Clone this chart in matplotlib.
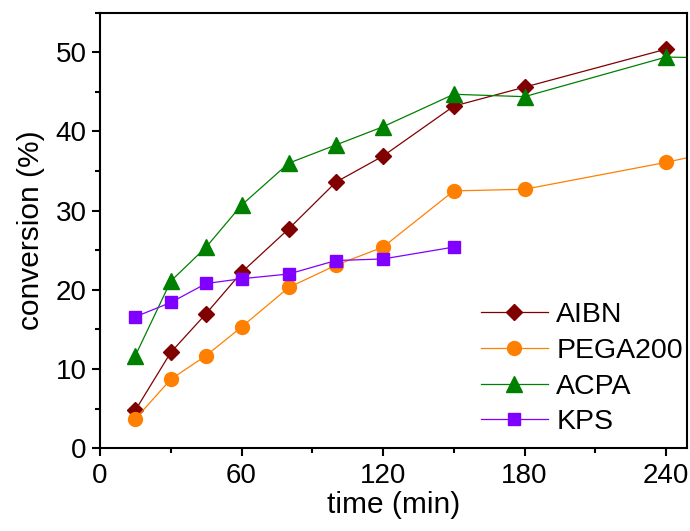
import matplotlib
matplotlib.use("Agg")
import matplotlib.pyplot as plt
from matplotlib.ticker import MultipleLocator

plt.rcParams.update({
    "font.family": ["Liberation Sans", "DejaVu Sans"],
    "font.size": 20,
})

# ─── data ────────────────────────────────────────────────────────────────────
t_aibn = [15, 30, 45, 60, 80, 100, 120, 150, 180, 240]
aibn = [4.8, 12.1, 17.0, 22.2, 27.7, 33.6, 36.9, 43.2, 45.6, 50.4]

t_pega = [15, 30, 45, 60, 80, 100, 120, 150, 180, 240, 300]
pega = [3.7, 8.7, 11.7, 15.3, 20.3, 23.1, 25.4, 32.5, 32.7, 36.1, 40.0]

t_acpa = [15, 30, 45, 60, 80, 100, 120, 150, 180, 240, 300]
acpa = [11.7, 21.1, 25.4, 30.7, 36.0, 38.3, 40.6, 44.7, 44.4, 49.4, 49.1]

t_kps = [15, 30, 45, 60, 80, 100, 120, 150]
kps = [16.6, 18.4, 20.8, 21.4, 22.0, 23.7, 23.9, 25.4]

series = [
    ("AIBN", t_aibn, aibn, "#800000", "D", 8.5),
    ("PEGA200", t_pega, pega, "#FF8000", "o", 10),
    ("ACPA", t_acpa, acpa, "#008000", "^", 11),
    ("KPS", t_kps, kps, "#8000FF", "s", 9),
]

fig = plt.figure(figsize=(6.9, 5.31), dpi=100)
ax = fig.add_axes([0.145, 0.156, 0.851, 0.82])

for name, tx, ty, col, mk, ms in series:
    ax.plot(tx, ty, color=col, lw=0.9, marker=mk, ms=ms,
            mec=col, mfc=col, label=name)

ax.set_xlim(0, 249)
ax.set_ylim(0, 55)
ax.xaxis.set_major_locator(MultipleLocator(60))
ax.xaxis.set_minor_locator(MultipleLocator(30))
ax.yaxis.set_major_locator(MultipleLocator(10))
ax.yaxis.set_minor_locator(MultipleLocator(5))
ax.tick_params(which="major", direction="out", length=6, width=1.5, labelsize=20)
ax.tick_params(which="minor", direction="out", length=3.5, width=1.5)
ax.tick_params(axis="x", which="major", pad=5)
for sp in ax.spines.values():
    sp.set_linewidth(1.5)

ax.set_xlabel("time (min)", fontsize=21.5, labelpad=1)
ax.set_ylabel("conversion (%)", fontsize=21.5, labelpad=8)

ax.legend(loc="lower right", frameon=False, fontsize=20.5, handlelength=2.35,
          handletextpad=0.3, labelspacing=0.34, borderaxespad=0.0,
          borderpad=0.15, bbox_to_anchor=(1.0, 0.02))

fig.savefig("out.png", dpi=100)
